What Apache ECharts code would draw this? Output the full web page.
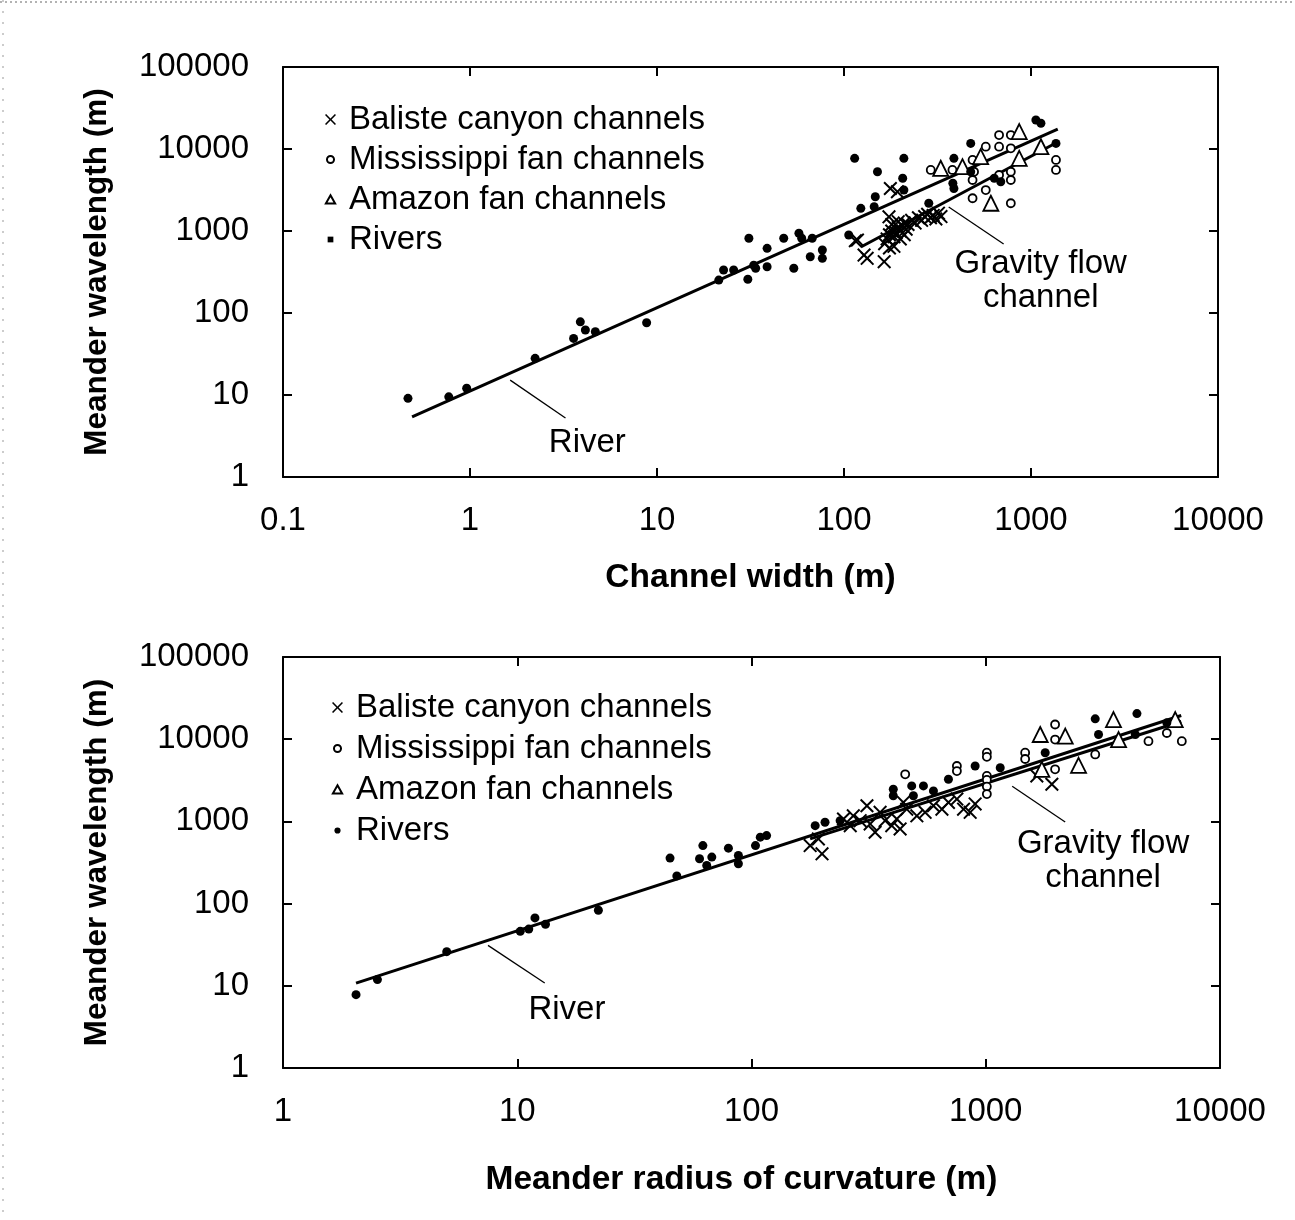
<!DOCTYPE html>
<html>
<head>
<meta charset="utf-8">
<script src="https://cdn.jsdelivr.net/npm/echarts@6/dist/echarts.min.js"></script>
<style>
  html, body { margin: 0; padding: 0; background: #fff; }
  #chart { width: 1295px; height: 1220px; }
</style>
</head>
<body>
<div id="chart"></div>
<script>
// ---- Meander wavelength vs channel width (upper panel) ----
const widthBaliste = [
  [115, 760], [118, 776], [128, 509], [133, 464], [164, 423], [177, 3300], [193, 3010], [174, 1490],
  [165, 700], [170, 800], [175, 900], [180, 1000], [185, 850], [190, 950], [195, 1100], [200, 1000],
  [205, 1150], [210, 1250], [215, 1050], [185, 650], [175, 620], [200, 800], [220, 1200], [230, 1350],
  [240, 1250], [250, 1450], [260, 1350], [270, 1500], [280, 1600], [290, 1450], [300, 1550], [310, 1400],
  [320, 1650], [330, 1500], [195, 1300], [180, 1200], [210, 900]
];
const widthMississippi = [
  [291, 5550], [380, 5550], [487, 7350], [496, 5280], [487, 4190], [487, 2510], [573, 10660], [675, 10660],
  [780, 10200], [675, 4820], [780, 5280], [780, 4190], [573, 3160], [780, 2180], [675, 14800], [780, 14800],
  [1360, 7350], [1360, 5550]
];
const widthAmazon = [
  [329, 5820], [430, 6090], [538, 8060], [865, 16300], [865, 7690], [1130, 10660], [610, 2180]
];
const widthRivers = [
  [0.466, 9.1], [0.77, 9.5], [0.96, 12.1], [2.23, 28], [3.58, 49], [3.89, 78], [4.14, 62], [4.68, 59],
  [8.8, 76], [21.4, 252], [22.7, 334], [25.7, 334], [31, 815], [30.6, 258], [33.7, 351], [32.9, 382],
  [38.8, 615], [38.8, 367], [47.6, 815], [53.9, 351], [57.4, 938], [59.4, 815], [67.6, 815], [66, 486],
  [76.6, 586], [76.6, 464], [106, 893], [114, 7690], [123, 1890], [145, 1980], [151, 5280], [147, 2620],
  [209, 7690], [206, 4400], [209, 3160], [284, 2180], [387, 7690], [382, 3820], [387, 3300], [476, 11700],
  [476, 5280], [636, 4400], [689, 3990], [1062, 22600], [1130, 20600], [1360, 11700]
];
const widthRiverFit = [[0.49, 5.4], [1390, 17500]];
const widthGravityFit = [[123, 638], [1390, 12170]];

// ---- Meander wavelength vs radius of curvature (lower panel) ----
const radiusBaliste = [
  [178, 508], [200, 403], [193, 612], [247, 1070], [264, 887], [272, 1170], [291, 1020], [311, 1550],
  [321, 931], [337, 738], [354, 1290], [372, 1020], [397, 887], [417, 1070], [431, 809], [445, 1700],
  [460, 1410], [508, 1170], [551, 1290], [598, 1550], [650, 1410], [693, 1700], [753, 1870], [804, 1410],
  [858, 1290], [901, 1630], [1652, 3570], [1915, 2830]
];
const radiusMississippi = [
  [453, 3740], [753, 4720], [753, 4100], [1011, 6850], [1011, 6100], [1011, 3570], [1011, 3200], [1011, 2650],
  [1011, 2150], [1473, 6850], [1473, 5740], [1977, 15100], [1977, 9900], [1977, 4300], [2933, 6530],
  [4950, 9460], [5930, 11900], [6870, 9460]
];
const radiusAmazon = [
  [1708, 11400], [2185, 10900], [2490, 4810], [3510, 17300], [3690, 9900], [6440, 17300], [1736, 4300]
];
const radiusRivers = [
  [2.05, 7.8], [2.53, 11.9], [5.0, 26], [10.3, 46], [11.2, 49], [11.9, 67], [13.2, 56], [22.2, 83],
  [44.9, 358], [48, 217], [62, 508], [60, 351], [67.7, 368], [64.4, 291], [79.7, 473], [87.9, 385],
  [87.9, 305], [104, 508], [109, 643], [116, 672], [187, 887], [206, 975], [239, 1020], [403, 2460],
  [403, 2050], [483, 2700], [542, 2700], [491, 2050], [598, 2350], [693, 3260], [901, 4720], [1153, 4500],
  [1794, 6850], [2933, 17700], [3030, 11400], [4420, 20500], [4350, 11400], [5930, 15800]
];
const radiusRiverFit = [[2.05, 10.8], [6830, 19400]];
const radiusGravityFit = [[178, 612], [6830, 16400]];

// Axis tick labels
const widthTicks = ['0.1', '1', '10', '100', '1000', '10000'];
const radiusTicks = ['1', '10', '100', '1000', '10000'];
const wavelengthTicks = ['1', '10', '100', '1000', '10000', '100000'];

const seriesNames = ['Baliste canyon channels', 'Mississippi fan channels', 'Amazon fan channels', 'Rivers'];

// Annotation anchors (data coordinates)
const notesWidth = [
  { text: 'River', at: [4.24, 2.6], leader: [[1.64, 15.2], [3.24, 5.25]] },
  { text: 'Gravity flow\nchannel', at: [1127, 245], leader: [[363, 1960], [714, 693]] }
];
const notesRadius = [
  { text: 'River', at: [16.3, 5.1], leader: [[7.5, 31], [13.1, 10.8]] },
  { text: 'Gravity flow\nchannel', at: [3170, 332], leader: [[1297, 2680], [2183, 984]] }
];

// ---- styling ----
const FONT = '"Liberation Sans", Arial, Helvetica, sans-serif';
const TEXT_SIZE = 33;
const TITLE_SIZE = 33.5;
const CROSS = 'path://M0,10 L10,0 L50,40 L90,0 L100,10 L60,50 L100,90 L90,100 L50,60 L10,100 L0,90 L40,50 Z';
const ICON_CIRCLE = 'path://M0,0 M100,100 M82,50 A32,32 0 1 1 18,50 A32,32 0 1 1 82,50 Z';
const ICON_DOT = 'path://M0,0 M100,100 M78,50 A28,28 0 1 1 22,50 A28,28 0 1 1 78,50 Z';
const ICON_TRI = 'path://M0,0 M100,100 M50,12 L92,86 L8,86 Z';
const ICON_SQUARE = 'path://M0,0 M100,100 M24,24 L76,24 L76,76 L24,76 Z';

function tickFormatter(labels, minExp) {
  return function (v) {
    const e = Math.round(Math.log10(v));
    return labels[e - minExp] !== undefined ? labels[e - minExp] : '';
  };
}

const axisLine = { show: true, onZero: false, lineStyle: { color: '#000', width: 2 } };
const axisTick = { show: true, inside: true, length: 9, lineStyle: { color: '#000', width: 2 } };

function xAxisPair(gridIndex, min, max, name, nameGap, namePad, labels, minExp) {
  return [
    {
      type: 'log', logBase: 10, gridIndex, min, max, position: 'bottom',
      name, nameLocation: 'middle', nameGap,
      nameTextStyle: { fontFamily: FONT, fontWeight: 'bold', fontSize: TITLE_SIZE, color: '#000', padding: namePad },
      axisLine, axisTick,
      axisLabel: { fontFamily: FONT, fontSize: TEXT_SIZE, color: '#000', margin: 27, formatter: tickFormatter(labels, minExp) },
      splitLine: { show: false }, minorTick: { show: false }
    },
    {
      type: 'log', logBase: 10, gridIndex, min, max, position: 'top',
      axisLine, axisTick, axisLabel: { show: false }, splitLine: { show: false }
    }
  ];
}

function yAxisPair(gridIndex, name) {
  return [
    {
      type: 'log', logBase: 10, gridIndex, min: 1, max: 100000, position: 'left',
      name, nameLocation: 'middle', nameGap: 170, nameRotate: 90,
      nameTextStyle: { fontFamily: FONT, fontWeight: 'bold', fontSize: 31.5, color: '#000' },
      axisLine, axisTick,
      axisLabel: { fontFamily: FONT, fontSize: TEXT_SIZE, color: '#000', margin: 34, formatter: tickFormatter(wavelengthTicks, 0) },
      splitLine: { show: false }, minorTick: { show: false }
    },
    {
      type: 'log', logBase: 10, gridIndex, min: 1, max: 100000, position: 'right',
      axisLine, axisTick, axisLabel: { show: false }, splitLine: { show: false }
    }
  ];
}

function panelSeries(xi, yi, sets, fits, notes) {
  const base = { xAxisIndex: xi, yAxisIndex: yi };
  const out = [];
  fits.forEach(f => out.push(Object.assign({
    type: 'line', data: f, symbol: 'none', silent: true, z: 2,
    lineStyle: { color: '#000', width: 3 }
  }, base)));
  notes.forEach(n => {
    out.push(Object.assign({
      type: 'line', data: n.leader, symbol: 'none', silent: true, z: 2,
      lineStyle: { color: '#000', width: 1.3 }
    }, base));
    out.push(Object.assign({
      type: 'scatter', data: [n.at], symbolSize: 1, silent: true, z: 3,
      itemStyle: { color: 'rgba(0,0,0,0)', opacity: 1 },
      label: {
        show: true, position: 'inside', formatter: n.text, color: '#000', opacity: 1,
        fontFamily: FONT, fontSize: TEXT_SIZE, lineHeight: 34, align: 'center', verticalAlign: 'middle'
      }
    }, base));
  });
  out.push(Object.assign({
    name: seriesNames[0], type: 'scatter', data: sets[0], symbol: CROSS, symbolSize: 14, z: 5,
    itemStyle: { color: '#000', opacity: 1 }
  }, base));
  out.push(Object.assign({
    name: seriesNames[1], type: 'scatter', data: sets[1], symbol: 'circle', symbolSize: 8, z: 5,
    itemStyle: { color: '#fff', borderColor: '#000', borderWidth: 1.8, opacity: 1 }
  }, base));
  out.push(Object.assign({
    name: seriesNames[2], type: 'scatter', data: sets[2], symbol: 'triangle', symbolSize: 15, z: 5,
    itemStyle: { color: '#fff', borderColor: '#000', borderWidth: 1.8, opacity: 1 }
  }, base));
  out.push(Object.assign({
    name: seriesNames[3], type: 'scatter', data: sets[3], symbol: 'circle', symbolSize: 9, z: 6,
    itemStyle: { color: '#000', opacity: 1 }
  }, base));
  return out;
}

function legendFor(top, left, gap, riverIcon) {
  return {
    orient: 'vertical', top, left, padding: 0, itemWidth: 11, itemHeight: 11, itemGap: gap,
    selectedMode: false,
    textStyle: { fontFamily: FONT, fontSize: TEXT_SIZE, lineHeight: 33, color: '#000', padding: [0, 0, 0, 8] },
    data: [
      { name: seriesNames[0], icon: CROSS },
      { name: seriesNames[1], icon: ICON_CIRCLE },
      { name: seriesNames[2], icon: ICON_TRI },
      { name: seriesNames[3], icon: riverIcon }
    ]
  };
}

const chart = echarts.init(document.getElementById('chart'), null, { renderer: 'canvas' });

chart.setOption({
  backgroundColor: '#fff',
  animation: false,
  grid: [
    { left: 283, top: 67, width: 935, height: 410 },
    { left: 283, top: 657, width: 937, height: 411 }
  ],
  xAxis: [
    ...xAxisPair(0, 0.1, 10000, 'Channel width (m)', 84, 0, widthTicks, -1),
    ...xAxisPair(1, 1, 10000, 'Meander radius of curvature (m)', 95, [0, 20, 0, 0], radiusTicks, 0)
  ],
  yAxis: [
    ...yAxisPair(0, 'Meander wavelength (m)'),
    ...yAxisPair(1, 'Meander wavelength (m)')
  ],
  legend: [
    legendFor(103, 324, 7, ICON_SQUARE),
    legendFor(691, 331, 8, ICON_DOT)
  ],
  graphic: [
    { type: 'line', silent: true, shape: { x1: 0, y1: 2, x2: 1295, y2: 2 },
      style: { stroke: '#666', lineWidth: 1, lineDash: [2, 3] } },
    { type: 'line', silent: true, shape: { x1: 3, y1: 0, x2: 3, y2: 1220 },
      style: { stroke: '#999', lineWidth: 1, lineDash: [2, 9] } }
  ],
  series: [
    ...panelSeries(0, 0, [widthBaliste, widthMississippi, widthAmazon, widthRivers],
      [widthRiverFit, widthGravityFit], notesWidth),
    ...panelSeries(2, 2, [radiusBaliste, radiusMississippi, radiusAmazon, radiusRivers],
      [radiusRiverFit, radiusGravityFit], notesRadius)
  ]
});
</script>
</body>
</html>
